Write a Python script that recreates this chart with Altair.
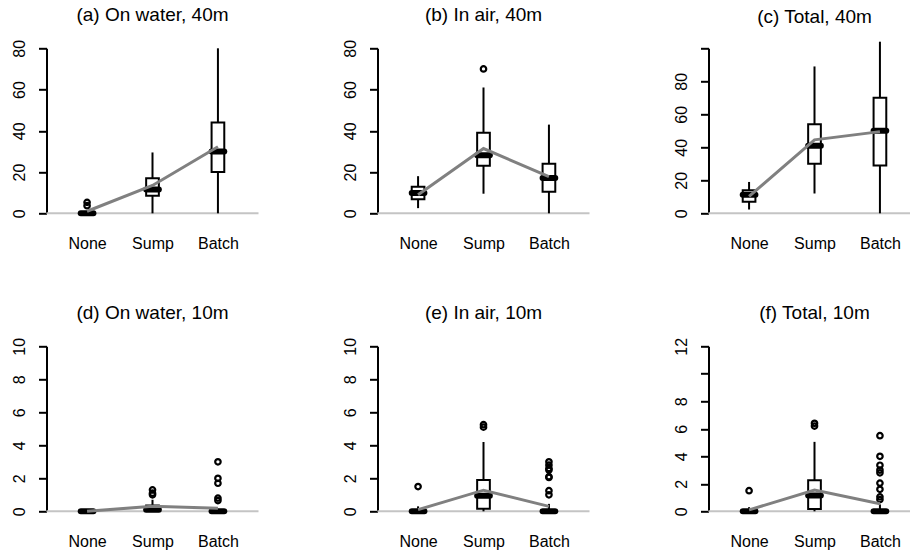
import altair as alt
import pandas as pd

# ---------------- data ----------------
categories = ["None", "Sump", "Batch"]
titles = ["(a) On water, 40m", "(b) In air, 40m", "(c) Total, 40m",
          "(d) On water, 10m", "(e) In air, 10m", "(f) Total, 10m"]
y_top = [80, 80, 100, 10, 10, 12]
y_ticks = [[0, 20, 40, 60, 80], [0, 20, 40, 60, 80], [0, 20, 40, 60, 80, 100],
           [0, 2, 4, 6, 8, 10], [0, 2, 4, 6, 8, 10], [0, 2, 4, 6, 8, 10, 12]]
y_unlabelled = [-1, -1, 100, -1, -1, 10]

whisker_low = [[0, 0, 0], [2.5, 9.5, 0], [2.3, 12, 0],
               [0, 0, 0], [0, 0, 0], [0, 0, 0]]
q1 = [[0, 8.5, 20], [6.8, 23, 10.4], [7, 30, 29],
      [0, 0.05, 0], [0, 0.15, 0], [0, 0.17, 0]]
median = [[0, 11.5, 30], [9.8, 28.2, 17.1], [11.3, 41, 50],
          [0, 0.1, 0], [0, 0.95, 0], [0, 1.15, 0]]
q3 = [[0.5, 17, 44], [12.9, 39, 24], [14, 54, 70],
      [0, 0.35, 0], [0, 1.9, 0], [0, 2.25, 0]]
whisker_high = [[1.2, 29.5, 80], [18, 61, 43], [19, 89, 104],
                [0, 0.7, 0], [0.3, 4.2, 0.45], [0.3, 5.05, 0.5]]
means = [[1.0, 13.5, 32.3], [9.0, 31.4, 17.8], [10.3, 44.5, 49.5],
         [0.0, 0.3, 0.18], [0.1, 1.28, 0.3], [0.1, 1.55, 0.55]]
outliers = [
    [[3.7, 5.3], [], []],
    [[], [70], []],
    [[], [], []],
    [[], [1.0, 1.1, 1.3], [0.65, 0.8, 1.7, 2.0, 3.0]],
    [[1.5], [5.1, 5.25], [1.0, 1.25, 2.05, 2.1, 2.5, 2.6, 2.8, 3.0]],
    [[1.5], [6.2, 6.4], [0.85, 1.05, 1.6, 2.05, 2.8, 3.0, 3.35, 4.0, 5.5]],
]

# ---------------- style ----------------
FONT = "Liberation Sans"
W, H = 212, 165
HALF = 0.097
label_expr_x = "[" + ",".join("'%s'" % c for c in categories) + "][datum.value - 1]"


def panel(i):
    df = pd.DataFrame({
        "cat": categories,
        "pos": [1, 2, 3],
        "lo": whisker_low[i],
        "q1": q1[i],
        "med": median[i],
        "q3": q3[i],
        "hi": whisker_high[i],
        "mean": means[i],
    })
    out = pd.DataFrame(
        [{"pos": j + 1, "v": v} for j in range(3) for v in outliers[i][j]],
        columns=["pos", "v"],
    )
    base0 = pd.DataFrame({"z": [0]})

    xs = alt.Scale(domain=[0.38, 3.62], nice=False, zero=False)
    ys = alt.Scale(domain=[0, y_top[i]], nice=False, zero=False)
    x_axis = alt.Axis(values=[1, 2, 3], labelExpr=label_expr_x, domain=False,
                      ticks=False, grid=False, labelPadding=22, labelFont=FONT,
                      labelFontSize=16, labelColor="black", labelFlush=False,
                      labelOverlap=False)
    y_axis = alt.Axis(values=y_ticks[i],
                      labelExpr="datum.value == %s ? '' : datum.label" % y_unlabelled[i],
                      labelAngle=270, labelAlign="center", labelBaseline="bottom",
                      labelPadding=11, tickSize=8, tickWidth=2, tickColor="black",
                      domainColor="black", domainWidth=2, grid=False,
                      labelFont=FONT, labelFontSize=16, labelColor="black",
                      labelOverlap=False, labelFlush=False)

    def X(f):
        return alt.X(f, scale=xs, axis=x_axis, title=None)

    def Y(f):
        return alt.Y(f, scale=ys, axis=y_axis, title=None)

    baseline = alt.Chart(base0).mark_rule(color="#c4c4c4", strokeWidth=2).encode(
        x=alt.value(0), x2=alt.value(W), y=Y("z:Q"))

    b = alt.Chart(df).transform_calculate(
        xl="datum.pos - %f" % HALF, xr="datum.pos + %f" % HALF)

    wlow = b.mark_rule(color="black", strokeWidth=2).encode(
        x=X("pos:Q"), y=Y("lo:Q"), y2="q1:Q")
    whigh = b.mark_rule(color="black", strokeWidth=2).encode(
        x=X("pos:Q"), y=Y("q3:Q"), y2="hi:Q")
    box = b.mark_rect(fill="white", stroke="black", strokeWidth=2).encode(
        x=X("xl:Q"), x2="xr:Q", y=Y("q1:Q"), y2="q3:Q")
    med = b.mark_rule(color="black", strokeWidth=6, strokeCap="round").encode(
        x=X("xl:Q"), x2="xr:Q", y=Y("med:Q"))
    pts = alt.Chart(out).mark_point(shape="circle", filled=False, color="black",
                                    strokeWidth=2.2, size=30, opacity=1).encode(
        x=X("pos:Q"), y=Y("v:Q"))
    mline = b.mark_line(color="#808080", strokeWidth=3).encode(
        x=X("pos:Q"), y=Y("mean:Q"))

    layers = [baseline, wlow, whigh, box, med]
    if len(out):
        layers.append(pts)
    layers.append(mline)
    return alt.layer(*layers).properties(
        width=W, height=H,
        title=alt.TitleParams(titles[i], font=FONT, fontSize=19,
                              fontWeight="normal", color="black",
                              anchor="middle", offset=14),
    )


chart = alt.concat(
    *[panel(i) for i in range(6)],
    columns=3,
    spacing=alt.RowColnumber(row=133, column=119),
    bounds="flush",
).resolve_scale(
    x="independent", y="independent"
).configure(
    style={"group-title": {"fontSize": 19, "font": FONT, "fontWeight": "normal"}}
).configure_view(stroke=None).configure_title(
    font=FONT, fontSize=19, fontWeight="normal", color="black"
).properties(
    background="white",
    autosize=alt.AutoSizeParams(type="none"),
    padding={"left": 46.5, "top": 48.3, "right": 863.5, "bottom": 508.7},
)

chart.save("out.html", embed_options={"renderer": "svg", "actions": False})
